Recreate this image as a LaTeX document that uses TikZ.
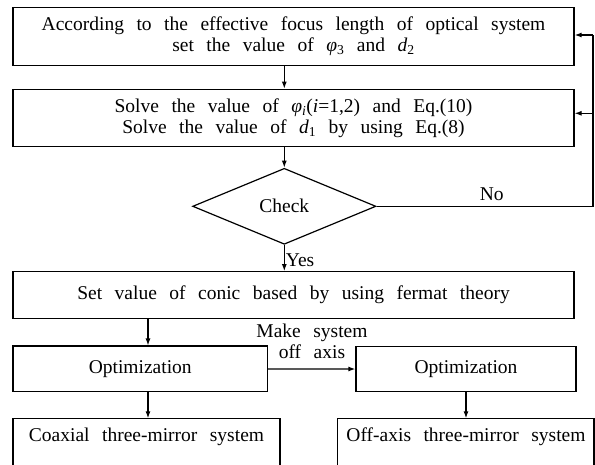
\documentclass[tikz,border=0pt]{standalone}
\usepackage{fontspec}
\setmainfont{Liberation Serif}
\usetikzlibrary{shapes.geometric,arrows.meta}
\newcommand\myfont{\fontsize{19.5}{21}\selectfont\spaceskip=12.5pt plus 1pt minus 1pt\relax}
\tikzset{
  box/.style={draw, line width=1.2pt, inner sep=0pt, align=center, font=\myfont},
  plain/.style={inner sep=0pt, align=center, font=\myfont},
  edge/.style={line width=1.2pt},
  arr/.style={line width=1.2pt, -{Latex[length=7pt,width=5pt]}},
}
\begin{document}
\begin{tikzpicture}[x=1pt,y=-1pt]
\useasboundingbox (0,0) rectangle (595,464);
% boxes
\node[box, minimum width=561pt, minimum height=58.4pt] (b1) at (293.5,36.5)
  {According to the effective focus length of optical system\\set the value of \textit{φ}\textsubscript{3} and \textit{d}\textsubscript{2}};
\node[box, minimum width=561pt, minimum height=57.4pt] (b2) at (293.5,118)
  {Solve the value of \textit{φ}\textsubscript{\textit{i}}(\textit{i}=1,2) and Eq.(10)\\Solve the value of \textit{d}\textsubscript{1} by using Eq.(8)};
\node[diamond, draw, line width=1.2pt, inner sep=0pt, minimum width=183.3pt, minimum height=76pt, font=\myfont] (chk) at (284.3,206.3) {Check};
\node[box, minimum width=561pt, minimum height=46.6pt] (b3) at (293.5,295) {Set value of conic based by using fermat theory};
\node[box, minimum width=254.3pt, minimum height=45.7pt] (optL) at (140.2,368.9) {Optimization};
\node[box, minimum width=220pt, minimum height=45.2pt] (optR) at (466,369) {Optimization};
% open-bottom result boxes
\coordinate (cxTL) at (13,418.3);
\coordinate (cxTR) at (280,418.3);
\coordinate (cxBL) at (13,466);
\coordinate (cxBR) at (280,466);
\draw[edge] (cxBL) -- (cxTL) -- (cxTR) -- (cxBR);
\node[plain] (coax) at (146.5,437) {Coaxial three-mirror system};
\coordinate (oxTL) at (337.3,418.3);
\coordinate (oxTR) at (594,418.3);
\coordinate (oxBL) at (337.3,466);
\coordinate (oxBR) at (594,466);
\draw[edge] (oxBL) -- (oxTL) -- (oxTR) -- (oxBR);
\node[plain] (offax) at (466,437) {Off-axis three-mirror system};
% connectors
\draw[arr] (b1.south -| chk) -- (b2.north -| chk);
\draw[arr] (b2.south -| chk) -- (chk.north);
\draw[arr] (chk.south) -- (b3.north -| chk) node[plain, anchor=west, pos=0.6, xshift=1pt] (yes) {Yes};
\coordinate (fbB) at (593,206.3);
\coordinate (fbT) at (593,35);
\coordinate (fbM) at (593,113.3);
\draw[edge] (chk.east) -- (fbB) -- (fbT);
\draw[arr] (fbT) -- (fbT -| b1.east);
\draw[arr] (fbM) -- (fbM -| b2.east);
\node[plain] (no) at (491.7,194) {No};
\coordinate (xL) at (148,0);
\draw[arr] (b3.south -| xL) -- (optL.north -| xL);
\draw[arr] (optL.south -| xL) -- (cxTL -| xL);
\draw[arr] (optL.east) -- (optR.west);
\node[plain] (mk) at (312,341) {Make system\\off axis};
\draw[arr] (optR.south) -- (optR.south |- oxTL);
\end{tikzpicture}
\end{document}
